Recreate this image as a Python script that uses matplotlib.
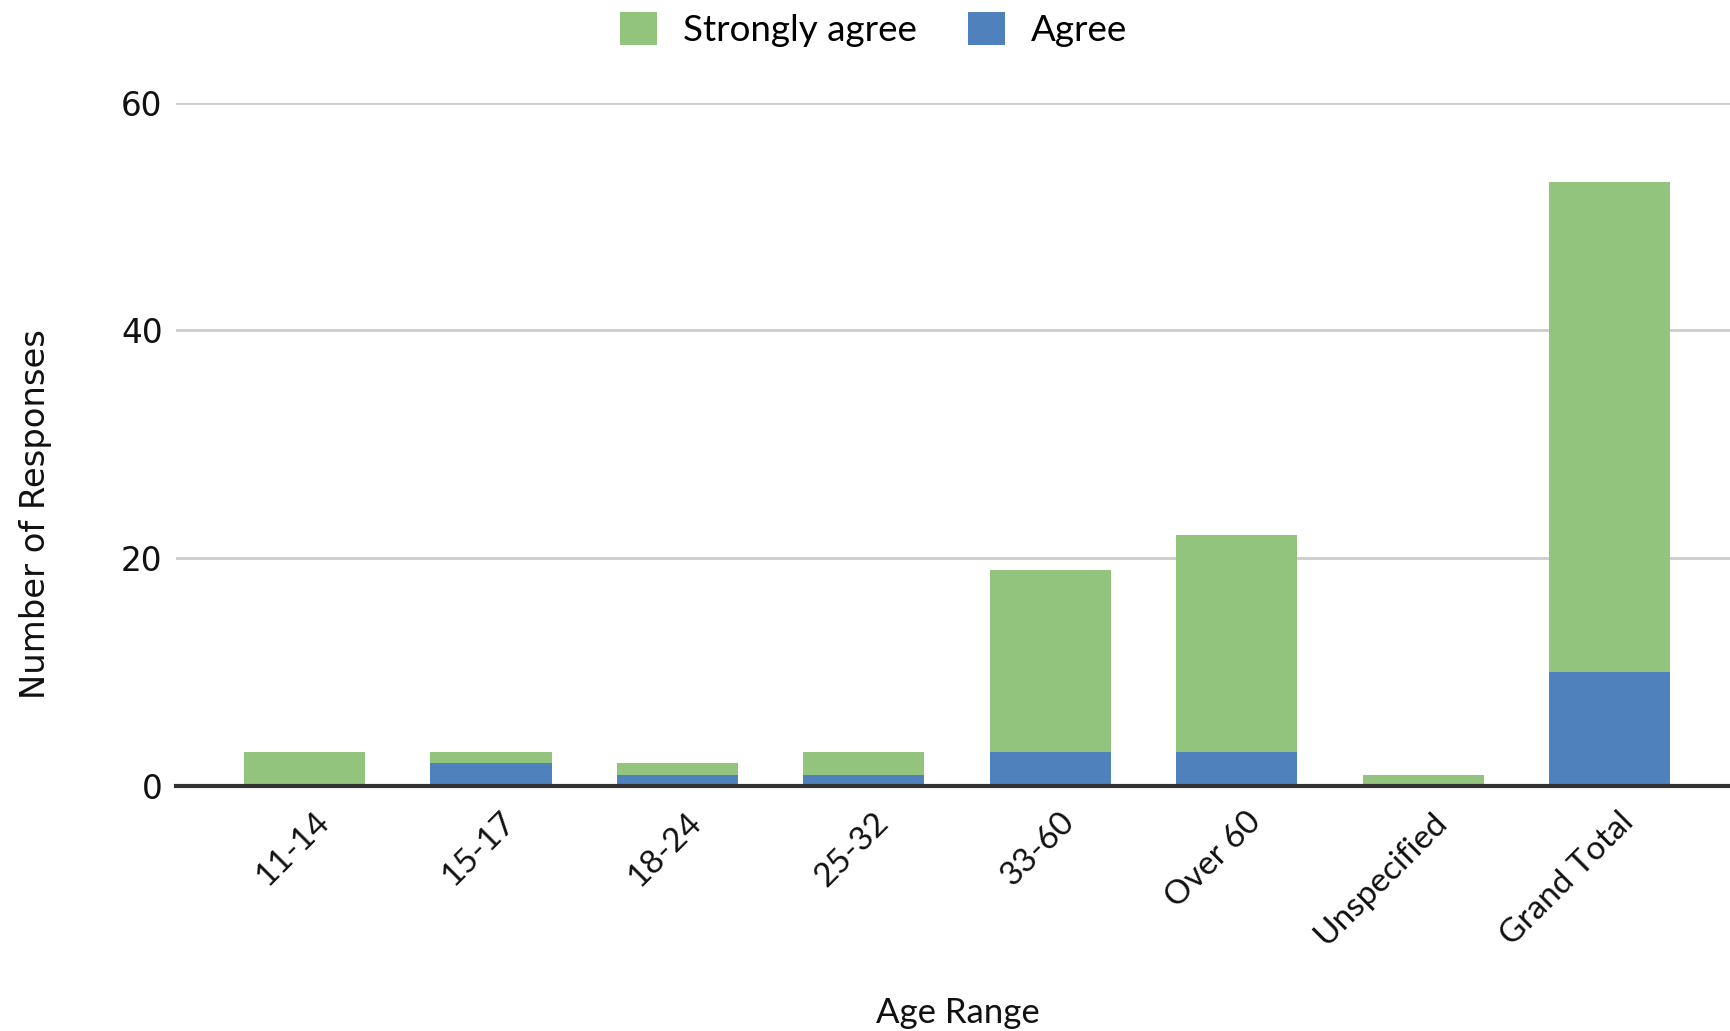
import numpy as np
import matplotlib
matplotlib.use("Agg")
import matplotlib.pyplot as plt
from matplotlib.transforms import ScaledTranslation

# data
age_ranges = ["11-14", "15-17", "18-24", "25-32", "33-60", "Over 60", "Unspecified", "Grand Total"]
agree = [0, 2, 1, 1, 3, 3, 0, 10]
strongly_agree = [3, 1, 1, 2, 16, 19, 1, 43]
y_ticks = [0, 20, 40, 60]

green = "#93c47d"
blue = "#4f81bd"

fig = plt.figure(figsize=(17.3, 10.31), dpi=100)
ax = fig.add_axes([0.102, 0.2376, 0.898, 0.6629])

x = np.arange(len(age_ranges))
ax.bar(x, agree, width=0.65, color=blue, label="Agree", zorder=3)
ax.bar(x, strongly_agree, width=0.65, bottom=agree, color=green, label="Strongly agree", zorder=3)

ax.set_xlim(-0.687, 7.646)
ax.set_ylim(0, 60)
ax.set_yticks(y_ticks)
ax.yaxis.grid(True, color="#cccccc", linewidth=2)
ax.set_axisbelow(True)
for s in ["top", "right", "left"]:
    ax.spines[s].set_visible(False)
ax.spines["bottom"].set_color("#333333")
ax.spines["bottom"].set_linewidth(3)
ax.spines["bottom"].set_zorder(4)

ax.tick_params(axis="y", length=0, pad=10, labelsize=23.5, labelcolor="#111111")
ax.tick_params(axis="x", length=0, pad=15)
ax.set_xticks(x)
ax.set_xticklabels(age_ranges, rotation=45, ha="right", rotation_mode="anchor",
                   fontsize=24, family="Lato", color="#111111")
off = ScaledTranslation(9 / 100, 0, fig.dpi_scale_trans)
for lbl in ax.get_xticklabels():
    lbl.set_transform(lbl.get_transform() + off)

ax.set_ylabel("Number of Responses", fontsize=24.3, color="#111111")
ax.yaxis.set_label_coords(-0.080, 0.398)
ax.set_xlabel("Age Range", fontsize=25, family="Lato", color="#111111", va="center")
ax.xaxis.set_label_coords(0.503, -0.332)

handles, labels = ax.get_legend_handles_labels()
fig.legend(handles[::-1], labels[::-1], loc="center", bbox_to_anchor=(0.505, 0.971),
           ncol=2, frameon=False, handlelength=1.0, handleheight=1.0,
           prop={"family": "Lato", "size": 26.5}, columnspacing=1.4, handletextpad=0.7)

fig.savefig("out.png", dpi=100)
